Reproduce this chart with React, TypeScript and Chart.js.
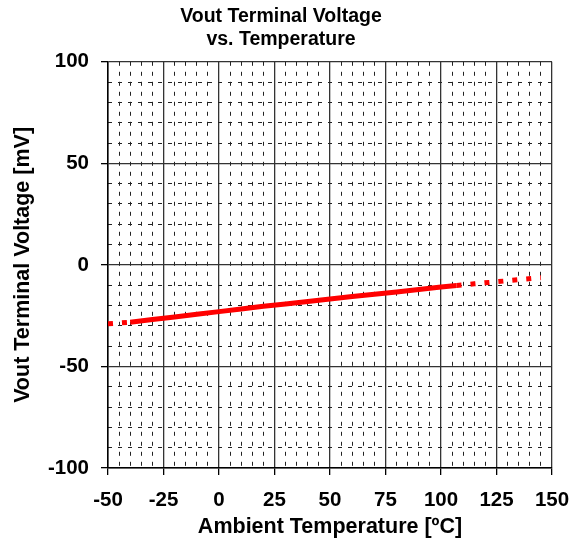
import React, { useEffect, useRef } from "react";
import { Chart, registerables } from "chart.js";

Chart.register(...registerables);

const temperatures = [-50, -40, -30, -20, -10, 0, 10, 20, 30, 40, 50, 60, 70, 80, 90, 100, 107, 115, 125, 135, 145];
const voutMv = [-29.0, -28.2, -26.9, -25.6, -24.3, -23.0, -21.7, -20.4, -19.2, -18.0, -16.8, -15.6, -14.4, -13.3, -12.1, -10.9, -10.1, -9.3, -8.3, -7.3, -6.3];
const solidFrom = -40;
const solidTo = 107;

const xTickValues = [-50, -25, 0, 25, 50, 75, 100, 125, 150];
const yTickValues = [-100, -50, 0, 50, 100];

const titleLines = ["Vout Terminal Voltage", "vs. Temperature"];
const xTitle = "Ambient Temperature [ºC]";
const yTitle = "Vout Terminal Voltage [mV]";

const FONT = "'Liberation Sans', Arial, sans-serif";
const TITLE_FS = 19.5;
const TICK_FS = 20.5;
const AXIS_TITLE_FS = 21.5;

export default function App() {
  const ref = useRef<HTMLCanvasElement | null>(null);

  useEffect(() => {
    if (!ref.current) return;
    const points = temperatures.map((t, i) => ({ x: t, y: voutMv[i] }));
    const chart = new Chart(ref.current, {
      type: "scatter",
      data: {
        datasets: [
          {
            data: points,
            showLine: true,
            borderColor: "#ff0000",
            backgroundColor: "#ff0000",
            borderWidth: 5,
            pointRadius: 0,
            tension: 0,
            segment: {
              borderDash: (ctx: any) =>
                ctx.p1.parsed.x <= solidFrom || ctx.p0.parsed.x >= solidTo ? [5, 9] : undefined,
            },
          },
        ],
      },
      options: {
        animation: false,
        responsive: true,
        maintainAspectRatio: false,
        layout: { padding: { left: 10, right: 27, top: 3, bottom: 5 } },
        plugins: {
          legend: { display: false },
          tooltip: { enabled: false },
          title: {
            display: true,
            text: titleLines,
            color: "#000",
            font: { family: FONT, size: TITLE_FS, weight: "bold", lineHeight: 1.2 },
            padding: { top: 2, bottom: 10 },
          },
        },
        scales: {
          x: {
            type: "linear",
            min: -50,
            max: 150,
            afterBuildTicks: (axis: any) => {
              axis.ticks = xTickValues.map((v) => ({ value: v }));
            },
            afterFit: (s: any) => {
              s.height = 72;
              s.paddingRight = 0;
              s.paddingLeft = 0;
            },
            ticks: {
              color: "#000",
              font: { family: FONT, size: TICK_FS, weight: "bold" },
              padding: 13,
              maxRotation: 0,
              autoSkip: false,
            },
            grid: { color: "#333", lineWidth: 1.3, tickLength: 7, tickColor: "#000" },
            border: { color: "#000", width: 1.5 },
            title: {
              display: true,
              text: xTitle,
              color: "#000",
              font: { family: FONT, size: AXIS_TITLE_FS, weight: "bold" },
              padding: { top: 0, bottom: 0 },
            },
          },
          y: {
            type: "linear",
            min: -100,
            max: 100,
            afterBuildTicks: (axis: any) => {
              axis.ticks = yTickValues.map((v) => ({ value: v }));
            },
            afterFit: (s: any) => {
              s.width = 98;
              s.paddingTop = 0;
              s.paddingBottom = 0;
            },
            ticks: {
              color: "#000",
              font: { family: FONT, size: TICK_FS, weight: "bold" },
              padding: 12,
              autoSkip: false,
            },
            grid: { color: "#333", lineWidth: 1.3, tickLength: 7, tickColor: "#000" },
            border: { color: "#000", width: 1.5 },
            title: {
              display: true,
              text: yTitle,
              color: "#000",
              font: { family: FONT, size: AXIS_TITLE_FS, weight: "bold" },
              padding: { top: 0, bottom: 4 },
            },
          },
          x2: {
            type: "linear",
            position: "bottom",
            min: -50,
            max: 150,
            z: -1,
            afterFit: (s: any) => {
              s.height = 0;
            },
            ticks: { display: false, stepSize: 5 },
            grid: {
              drawTicks: false,
              color: (ctx: any) => (ctx.tick && ctx.tick.value % 25 === 0 ? "rgba(0,0,0,0)" : "#222"),
              lineWidth: 1,
            },
            border: { display: false, dash: [4, 6] },
          },
          y2: {
            type: "linear",
            position: "left",
            min: -100,
            max: 100,
            z: -1,
            afterFit: (s: any) => {
              s.width = 0;
            },
            ticks: { display: false, stepSize: 10 },
            grid: {
              drawTicks: false,
              color: (ctx: any) => (ctx.tick && ctx.tick.value % 50 === 0 ? "rgba(0,0,0,0)" : "#222"),
              lineWidth: 1,
            },
            border: { display: false, dash: [4, 6] },
          },
        },
      },
    });
    return () => chart.destroy();
  }, []);

  return (
    <div style={{ position: "absolute", left: 0, top: 0, width: 579, height: 545, background: "#fff" }}>
      <canvas ref={ref} />
    </div>
  );
}
